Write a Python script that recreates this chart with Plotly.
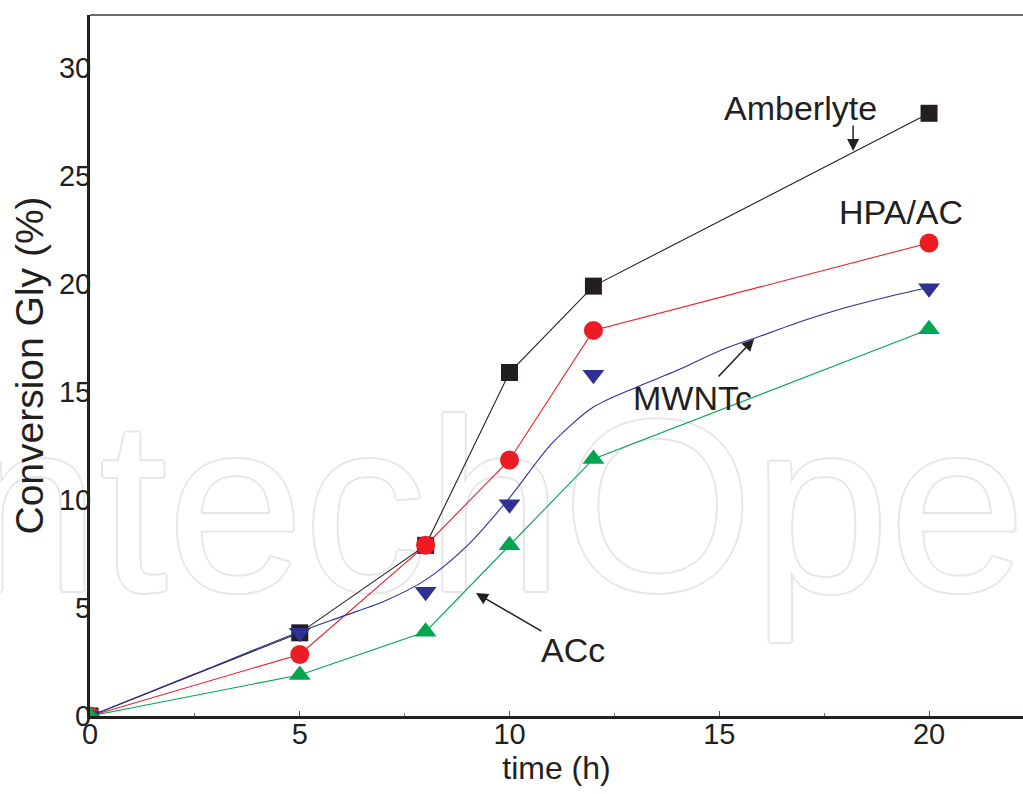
import plotly.graph_objects as go

# ---- data ----
time_h = [0, 5, 8, 10, 12, 20]
amberlyte = [0, 3.85, 7.9, 15.9, 19.9, 27.9]
hpa_ac = [0, 2.85, 7.9, 11.85, 17.85, 21.9]
mwntc = [0, 3.85, 5.75, 9.8, 15.8, 19.8]
acc = [0, 1.9, 3.9, 7.9, 11.9, 17.9]

# smooth fitted curve drawn through the MWNTc series
mwntc_fit_x = [0, 2.5, 5, 6, 7, 8, 9, 10, 11, 12, 13, 14, 15, 16, 17, 18, 19, 20]
mwntc_fit_y = [0, 1.95, 3.9, 4.6, 5.3, 6.3, 7.9, 10.1, 12.6, 14.3, 15.2, 16.0, 16.9, 17.6, 18.3, 18.9, 19.4, 19.85]

x_ticks = [0, 5, 10, 15, 20]
y_ticks = [0, 5, 10, 15, 20, 25, 30]

BLACK = "#231f20"
RED = "#ed1c24"
NAVY = "#2e3192"
GREEN = "#00a651"
FONT = "Liberation Sans, Arial, Helvetica, sans-serif"

fig = go.Figure()

# watermark (drawn first so that the data sits on top)
wm = "#e6e6e6"
fig.add_trace(go.Scatter(
    x=[10.45], y=[8.6], mode="text", text=["IntechOpen"],
    textposition="middle center", cliponaxis=False, hoverinfo="skip", showlegend=False,
    textfont=dict(family=FONT, size=245, color="white",
                  shadow=f"2px 0 {wm}, -2px 0 {wm}, 0 2px {wm}, 0 -2px {wm}, 1px 1px {wm}, -1px -1px {wm}, 1px -1px {wm}, -1px 1px {wm}"),
))

fig.add_trace(go.Scatter(x=time_h, y=amberlyte, mode="lines+markers", name="Amberlyte",
                         line=dict(color=BLACK, width=1.1),
                         marker=dict(symbol="square", size=17, color=BLACK)))
fig.add_trace(go.Scatter(x=time_h, y=hpa_ac, mode="lines+markers", name="HPA/AC",
                         line=dict(color=RED, width=1.1),
                         marker=dict(symbol="circle", size=19, color=RED)))
fig.add_trace(go.Scatter(x=mwntc_fit_x, y=mwntc_fit_y, mode="lines", name="MWNTc fit",
                         line=dict(color=NAVY, width=1.1, shape="spline", smoothing=0.8)))
fig.add_trace(go.Scatter(x=time_h, y=mwntc, mode="markers", name="MWNTc",
                         marker=dict(symbol="triangle-down", size=19, color=NAVY)))
fig.add_trace(go.Scatter(x=time_h, y=acc, mode="lines+markers", name="ACc",
                         line=dict(color=GREEN, width=1.1),
                         marker=dict(symbol="triangle-up", size=19, color=GREEN)))

# top frame line (thin)
fig.add_shape(type="line", xref="paper", yref="paper", x0=0, x1=1, y0=1, y1=1,
              line=dict(color="#3a3a3a", width=1.5))

lab = dict(font=dict(family=FONT, size=34, color=BLACK), showarrow=False)
fig.add_annotation(x=16.93, y=28.15, text="Amberlyte", **lab)
fig.add_annotation(x=19.33, y=23.33, text="HPA/AC", **lab)
fig.add_annotation(x=14.37, y=14.72, text="MWNTc", **lab)
fig.add_annotation(x=11.51, y=3.06, text="ACc", **lab)

arr = dict(text="", showarrow=True, arrowhead=2, arrowsize=1.6, arrowwidth=1.5, arrowcolor=BLACK)
fig.add_annotation(x=18.19, y=26.16, ax=0, ay=-27, **arr)
fig.add_annotation(x=15.83, y=17.45, ax=-37, ay=39, **arr)
fig.add_annotation(x=9.20, y=5.69, ax=67, ay=39, **arr)

fig.update_layout(
    width=1023, height=794,
    margin=dict(l=90, r=0, t=15, b=78, autoexpand=False),
    paper_bgcolor="white", plot_bgcolor="white",
    showlegend=False,
    font=dict(family=FONT, color=BLACK),
)
fig.update_xaxes(
    range=[0, 22.24], tickvals=x_ticks, ticktext=[str(v) for v in x_ticks],
    showgrid=False, zeroline=False, automargin=False,
    showline=True, linecolor="#231f20", linewidth=3,
    ticks="inside", ticklen=5, tickwidth=1, tickcolor="#555",
    minor=dict(dtick=2.5, ticks="inside", ticklen=3, tickwidth=1, tickcolor="#777"),
    tickfont=dict(family=FONT, size=29, color=BLACK),
    ticklabelstandoff=-10,
    title=dict(text="time (h)", font=dict(family=FONT, size=32, color=BLACK), standoff=4),
)
fig.update_yaxes(
    range=[0, 32.45], tickvals=y_ticks, ticktext=[str(v) for v in y_ticks],
    showgrid=False, zeroline=False, automargin=False,
    showline=True, linecolor="#231f20", linewidth=3,
    ticks="",
    tickfont=dict(family=FONT, size=29, color=BLACK),
    ticklabelstandoff=-10,
    title=dict(text="Conversion Gly (%)", font=dict(family=FONT, size=39, color=BLACK), standoff=4),
)

fig.write_html("out.html", config={"displayModeBar": False},
               post_script="document.body.style.margin='0';document.body.style.padding='0';")
